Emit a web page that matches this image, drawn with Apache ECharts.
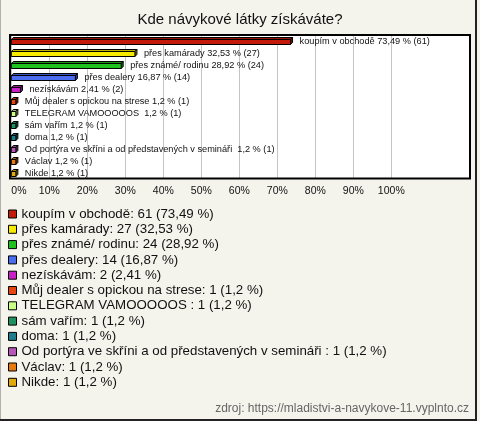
<!DOCTYPE html>
<html>
<head>
<meta charset="utf-8">
<script src="https://cdn.jsdelivr.net/npm/echarts@6/dist/echarts.min.js"></script>
<style>
html,body{margin:0;padding:0;background:#f4f3ec;}
#c{width:480px;height:421px;}
</style>
</head>
<body>
<div id="c"></div>
<script>
// ---- data ----
var chartTitle = "Kde návykové látky získáváte?";
var sourceText = "zdroj: https://mladistvi-a-navykove-11.vyplnto.cz";
var categories = [
  "koupím v obchodě",
  "přes kamárady",
  "přes známé/ rodinu",
  "přes dealery",
  "nezískávám",
  "Můj dealer s opickou na strese",
  "TELEGRAM VAMOOOOOS ",
  "sám vařím",
  "doma",
  "Od portýra ve skříni a od představených v semináři ",
  "Václav",
  "Nikde"
];
var counts = [61, 27, 24, 14, 2, 1, 1, 1, 1, 1, 1, 1];
var percents = [73.49, 32.53, 28.92, 16.87, 2.41, 1.2, 1.2, 1.2, 1.2, 1.2, 1.2, 1.2];
var xTicks = [0, 10, 20, 30, 40, 50, 60, 70, 80, 90, 100];

// ---- styling ----
var palette = ["#c41a0c", "#f6ea00", "#1ec21e", "#4a6cf0", "#c81ec8", "#e8440e",
               "#c8ff84", "#1f9060", "#1f7c8c", "#b855b8", "#e67a10", "#e0aa0a"];
var FONT = '"Liberation Sans", Arial, sans-serif';

function fmt(n) { return String(n).replace('.', ','); }
function darken(hex, f) {
  var r = parseInt(hex.substr(1, 2), 16), g = parseInt(hex.substr(3, 2), 16), b = parseInt(hex.substr(5, 2), 16);
  return 'rgb(' + Math.round(r * f) + ',' + Math.round(g * f) + ',' + Math.round(b * f) + ')';
}

var lookup = {};
categories.forEach(function (c, i) { lookup[c] = i; });

function renderBar(params, api) {
  var v = api.value(0), c = api.value(1);
  var p0 = api.coord([0, c]);
  var p1 = api.coord([v, c]);
  var color = api.visual('color');
  var h = 5, d = 2;
  var x = p0[0], y = p0[1] - 1.5, w = Math.max(p1[0] - p0[0], 1);
  var idx = Math.round(c);
  return {
    type: 'group',
    children: [
      { type: 'polygon', shape: { points: [[x, y], [x + d, y - d], [x + w + d, y - d], [x + w, y]] },
        style: { fill: darken(color, 0.75), stroke: '#000', lineWidth: 1 } },
      { type: 'polygon', shape: { points: [[x + w, y], [x + w + d, y - d], [x + w + d, y - d + h], [x + w, y + h]] },
        style: { fill: darken(color, 0.6), stroke: '#000', lineWidth: 1 } },
      { type: 'rect', shape: { x: x, y: y, width: w, height: h },
        style: { fill: color, stroke: '#000', lineWidth: 1 } },
      { type: 'text', x: x + w + d + 7, y: p0[1],
        style: { text: categories[idx] + ' ' + fmt(percents[idx]) + ' % (' + counts[idx] + ')',
                 fill: '#111', font: '9.2px ' + FONT, verticalAlign: 'middle', align: 'left' } }
    ]
  };
}

var series = categories.map(function (name, i) {
  return {
    type: 'custom',
    name: name,
    coordinateSystem: 'cartesian2d',
    itemStyle: { color: palette[i] },
    encode: { x: 0, y: 1 },
    renderItem: renderBar,
    data: [[percents[i], i]],
    silent: true
  };
});

var chart = echarts.init(document.getElementById('c'), null, { renderer: 'canvas' });
chart.setOption({
  backgroundColor: '#f4f3ec',
  animation: false,
  title: {
    text: chartTitle, left: 'center', top: 12, padding: 0,
    textStyle: { fontSize: 15, fontWeight: 'normal', color: '#111', fontFamily: FONT }
  },
  grid: { left: 11.3, right: 88.7, top: 35, bottom: 242, containLabel: false },
  xAxis: {
    type: 'value', min: xTicks[0], max: xTicks[xTicks.length - 1], interval: 10,
    axisLine: { show: false }, axisTick: { show: false },
    axisLabel: { formatter: '{value}%', fontSize: 10.5, color: '#111', fontFamily: FONT, margin: 7,
                 alignMinLabel: 'left', alignMaxLabel: 'center' },
    splitLine: { show: true, lineStyle: { color: '#c4c4c4', width: 1 } }
  },
  yAxis: {
    type: 'category', data: categories, inverse: true,
    axisLine: { show: false }, axisTick: { show: false }, axisLabel: { show: false },
    splitLine: { show: false }
  },
  legend: {
    orient: 'vertical', left: 8, top: 206.5, padding: 0,
    itemWidth: 8, itemHeight: 8, itemGap: 0.3, icon: 'rect',
    itemStyle: { borderColor: '#000', borderWidth: 1 },
    selectedMode: false,
    textStyle: { fontSize: 13.3, color: '#111', fontFamily: FONT, lineHeight: 15 },
    data: categories,
    formatter: function (name) {
      var i = lookup[name];
      return name + ': ' + counts[i] + ' (' + fmt(percents[i]) + ' %)';
    }
  },
  graphic: [
    { type: 'rect', z: -10, shape: { x: 10, y: 35, width: 460, height: 143.5 }, style: { fill: '#fff' }, silent: true },
    { type: 'rect', z: 100, shape: { x: 10, y: 35, width: 460, height: 143.5 }, style: { fill: 'none', stroke: '#000', lineWidth: 2 }, silent: true },
    { type: 'line', z: 100, shape: { x1: 0.5, y1: 0, x2: 0.5, y2: 421 }, style: { stroke: '#b0b0b0', lineWidth: 1 }, silent: true },
    { type: 'polyline', z: 100, shape: { points: [[476, 0], [476, 420], [0, 420]] }, style: { stroke: '#222', lineWidth: 2, fill: 'none' }, silent: true },
    { type: 'text', right: 11, top: 403, z: 100,
      style: { text: sourceText, fill: '#666', font: '12px ' + FONT } }
  ],
  series: series
});
</script>
</body>
</html>
